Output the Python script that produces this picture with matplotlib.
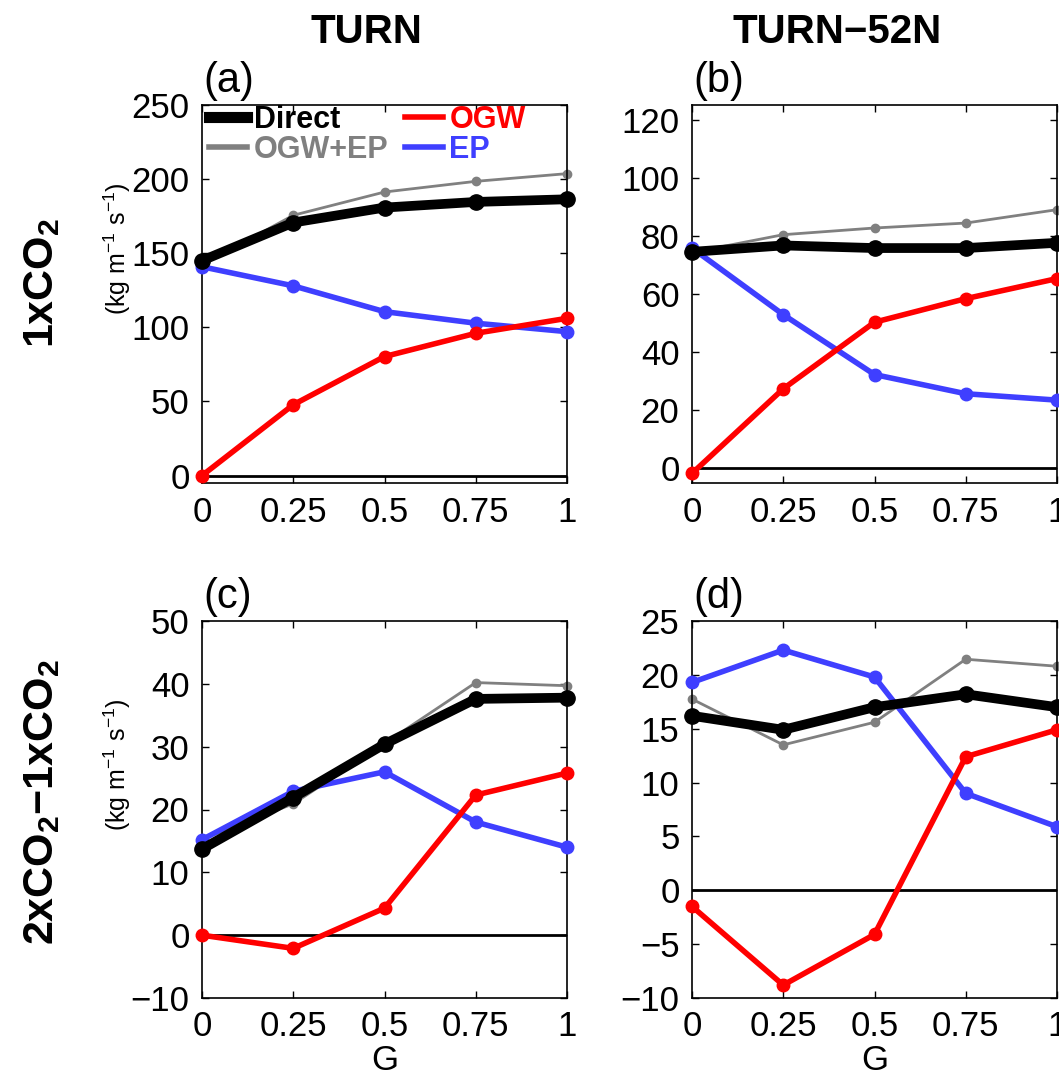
import numpy as np
import matplotlib
matplotlib.use('Agg')
import matplotlib.pyplot as plt
from matplotlib.lines import Line2D

plt.rcParams['font.family'] = ['Liberation Sans', 'DejaVu Sans']
plt.rcParams['mathtext.fontset'] = 'custom'
plt.rcParams['mathtext.rm'] = 'Liberation Sans'
plt.rcParams['mathtext.it'] = 'Liberation Sans'
plt.rcParams['mathtext.bf'] = 'Liberation Sans:bold'

G = [0, 0.25, 0.5, 0.75, 1]

# (a) TURN, 1xCO2
direct_a = [145, 170.7, 180.8, 184.6, 186.4]
ogwep_a = [142, 175.6, 191.3, 198.5, 203.7]
ep_a = [140.9, 128, 110.6, 102.8, 97.1]
ogw_a = [0, 47.8, 80.3, 96, 106.1]

# (b) TURN-52N, 1xCO2
direct_b = [74.5, 76.7, 75.8, 75.8, 77.6]
ogwep_b = [74.3, 80.4, 82.7, 84.4, 89]
ep_b = [75.8, 52.9, 32.3, 25.7, 23.5]
ogw_b = [-1.7, 27.4, 50.3, 58.4, 65.3]

# (c) TURN, 2xCO2-1xCO2
direct_c = [13.7, 21.9, 30.4, 37.6, 37.8]
ogwep_c = [15.3, 20.9, 30.5, 40.2, 39.7]
ep_c = [15.2, 22.9, 26.0, 18.0, 14.0]
ogw_c = [0, -2.1, 4.3, 22.3, 25.8]

# (d) TURN-52N, 2xCO2-1xCO2
direct_d = [16.2, 14.9, 17.0, 18.2, 17.0]
ogwep_d = [17.75, 13.5, 15.6, 21.45, 20.8]
ep_d = [19.3, 22.3, 19.8, 9.0, 5.9]
ogw_d = [-1.5, -8.8, -4.1, 12.4, 14.9]

panels = [
    ('(a)', direct_a, ogwep_a, ep_a, ogw_a, (-5, 250), np.arange(0, 251, 50)),
    ('(b)', direct_b, ogwep_b, ep_b, ogw_b, (-5, 125), np.arange(0, 121, 20)),
    ('(c)', direct_c, ogwep_c, ep_c, ogw_c, (-10, 50), np.arange(-10, 51, 10)),
    ('(d)', direct_d, ogwep_d, ep_d, ogw_d, (-10, 25), np.arange(-10, 26, 5)),
]

W, H = 1059, 1080
fig = plt.figure(figsize=(W / 100, H / 100), dpi=100)

# pixel boxes: left, right, top, bottom
boxes = [(202, 567, 105, 483), (692, 1057, 105, 483),
         (202, 567, 621, 998), (692, 1057, 621, 998)]

c_gray = '#808080'
c_blue = '#3f3fff'
c_red = '#ff0000'

axes = []
for (lab, dr, oe, ep, og, ylim, yt), (l, r, t, b) in zip(panels, boxes):
    ax = fig.add_axes([l / W, 1 - b / H, (r - l) / W, (b - t) / H])
    ax.axhline(0, color='k', lw=2, zorder=1)
    ax.plot(G, oe, '-o', color=c_gray, lw=2, ms=6, zorder=2, clip_on=False)
    ax.plot(G, ep, '-o', color=c_blue, lw=4, ms=9, zorder=3, clip_on=False)
    ax.plot(G, og, '-o', color=c_red, lw=4, ms=9, zorder=4, clip_on=False)
    ax.plot(G, dr, '-o', color='k', lw=7, ms=11, zorder=5, clip_on=False)
    ax.set_xlim(0, 1)
    ax.set_ylim(*ylim)
    ax.set_xticks(G)
    ax.set_xticklabels(['0', '0.25', '0.5', '0.75', '1'])
    ax.set_yticks(yt)
    ax.tick_params(direction='in', length=5, width=1, top=True, right=True,
                   labelsize=25, pad=9)
    for sp in ax.spines.values():
        sp.set_linewidth(1.2)
    ax.text(0.003, 1.01, lab, transform=ax.transAxes, fontsize=30,
            ha='left', va='bottom')
    axes.append(ax)

for ax in axes[2:]:
    ax.set_xlabel('G', fontsize=25, labelpad=0)

# legend in (a)
handles = [Line2D([], [], color='k', lw=8),
           Line2D([], [], color=c_gray, lw=4),
           Line2D([], [], color=c_red, lw=4),
           Line2D([], [], color=c_blue, lw=4)]
labels = ['Direct', 'OGW+EP', 'OGW', 'EP']
leg = axes[0].legend(handles, labels, loc='upper left', bbox_to_anchor=(0.02, 1.0),
                     ncol=2, frameon=False, borderpad=0, borderaxespad=0,
                     handlelength=1.25, handletextpad=0.2, columnspacing=0.55,
                     labelspacing=0.0, prop={'weight': 'bold', 'size': 22})
for txt, col in zip(leg.get_texts(), ['k', c_gray, c_red, c_blue]):
    txt.set_color(col)

# column titles
fig.text(366 / W, 1 - 32 / H, 'TURN', fontsize=29, fontweight='bold',
         ha='center', va='center')
fig.text(837 / W, 1 - 32 / H, 'TURN\u221252N', fontsize=29, fontweight='bold',
         ha='center', va='center')

# row labels
fig.text(42 / W, 1 - 283 / H, r'1xCO$_\mathbf{2}$', fontsize=31, fontweight='bold',
         rotation=90, ha='center', va='center')
fig.text(42 / W, 1 - 802 / H, '2xCO$_\\mathbf{2}$\u22121xCO$_\\mathbf{2}$',
         fontsize=31, fontweight='bold', rotation=90, ha='center', va='center')

# units
for yc in (249, 765):
    fig.text(117 / W, 1 - yc / H, r'(kg m$^{-1}$ s$^{-1}$)', fontsize=18,
             rotation=90, ha='center', va='center')

fig.savefig('out.png', dpi=100)
